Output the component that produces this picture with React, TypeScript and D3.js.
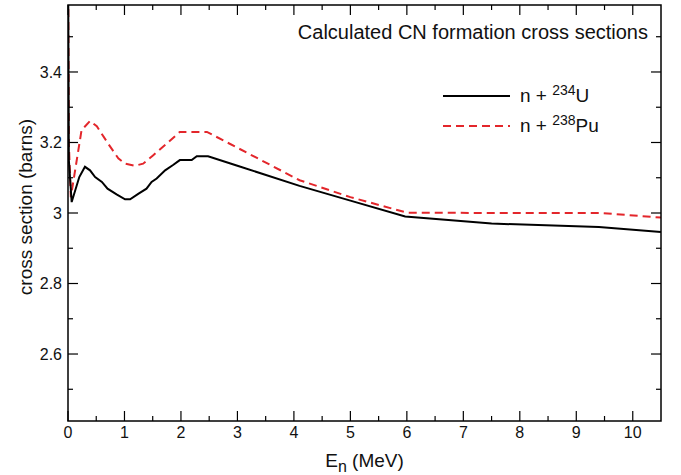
import * as d3 from 'd3';
import { useEffect, useRef } from 'react';

// n + 234U (black, solid)
const U234_E = [0, 0.015, 0.065, 0.2, 0.3, 0.39, 0.48, 0.6, 0.7, 0.86, 1.01, 1.1, 1.25, 1.39, 1.48, 1.57, 1.72, 1.86, 1.98, 2.19, 2.28, 2.48, 3, 4.1, 5, 5.97, 7.5, 9.4, 10.5];
const U234_S = [3.8, 3.15, 3.031, 3.102, 3.131, 3.121, 3.102, 3.088, 3.069, 3.053, 3.039, 3.039, 3.055, 3.069, 3.088, 3.098, 3.121, 3.136, 3.15, 3.15, 3.161, 3.161, 3.134, 3.077, 3.035, 2.99, 2.97, 2.96, 2.946];

// n + 238Pu (red, dashed)
const PU238_E = [0, 0.015, 0.05, 0.24, 0.39, 0.51, 0.71, 0.89, 1.01, 1.19, 1.33, 1.51, 1.75, 1.98, 2.46, 3, 4.1, 5, 6, 7.5, 9.45, 10.5];
const PU238_S = [3.8, 3.2, 3.045, 3.235, 3.261, 3.246, 3.197, 3.155, 3.14, 3.134, 3.14, 3.164, 3.197, 3.23, 3.23, 3.185, 3.093, 3.045, 3.001, 3.0, 3.0, 2.987];

const X_TICKS = [0, 1, 2, 3, 4, 5, 6, 7, 8, 9, 10];
const Y_TICKS = [2.6, 2.8, 3, 3.2, 3.4];
const X_MINOR = d3.range(0.5, 10.5, 1);
const Y_MINOR = [2.5, 2.7, 2.9, 3.1, 3.3, 3.5];

const FONT = '"Liberation Sans", Arial, Helvetica, sans-serif';
const RED = '#e3262b';

export default function App() {
  const svgRef = useRef<SVGSVGElement | null>(null);

  useEffect(() => {
    if (!svgRef.current) return;
    const svg = d3.select(svgRef.current);
    svg.selectAll('*').remove();

    const left = 68;
    const right = 661;
    const top = 5;
    const bottom = 421;

    const x = d3.scaleLinear().domain([0, 10.5]).range([left, right]);
    const y = d3.scaleLinear().domain([2.41, 3.59]).range([bottom, top]);

    svg.append('defs')
      .append('clipPath')
      .attr('id', 'plot-clip')
      .append('rect')
      .attr('x', left)
      .attr('y', top)
      .attr('width', right - left)
      .attr('height', bottom - top);

    const line = d3.line<[number, number]>()
      .x((d) => x(d[0]))
      .y((d) => y(d[1]));

    const u234 = U234_E.map((e, i) => [e, U234_S[i]] as [number, number]);
    const pu238 = PU238_E.map((e, i) => [e, PU238_S[i]] as [number, number]);

    const plot = svg.append('g').attr('clip-path', 'url(#plot-clip)');
    plot.append('path')
      .attr('d', line(pu238))
      .attr('fill', 'none')
      .attr('stroke', RED)
      .attr('stroke-width', 2)
      .attr('stroke-dasharray', '8,5');
    plot.append('path')
      .attr('d', line(u234))
      .attr('fill', 'none')
      .attr('stroke', '#000')
      .attr('stroke-width', 2);

    // ticks on all four sides, pointing inward
    const ticks = svg.append('g').attr('stroke', '#000').attr('stroke-width', 1.2);
    const major = 10;
    const minor = 5;
    X_TICKS.forEach((t) => {
      ticks.append('line').attr('x1', x(t)).attr('x2', x(t)).attr('y1', bottom).attr('y2', bottom - major);
      ticks.append('line').attr('x1', x(t)).attr('x2', x(t)).attr('y1', top).attr('y2', top + major);
    });
    X_MINOR.forEach((t) => {
      ticks.append('line').attr('x1', x(t)).attr('x2', x(t)).attr('y1', bottom).attr('y2', bottom - minor);
      ticks.append('line').attr('x1', x(t)).attr('x2', x(t)).attr('y1', top).attr('y2', top + minor);
    });
    Y_TICKS.forEach((t) => {
      ticks.append('line').attr('x1', left).attr('x2', left + major).attr('y1', y(t)).attr('y2', y(t));
      ticks.append('line').attr('x1', right).attr('x2', right - major).attr('y1', y(t)).attr('y2', y(t));
    });
    Y_MINOR.forEach((t) => {
      ticks.append('line').attr('x1', left).attr('x2', left + minor).attr('y1', y(t)).attr('y2', y(t));
      ticks.append('line').attr('x1', right).attr('x2', right - minor).attr('y1', y(t)).attr('y2', y(t));
    });

    svg.append('rect')
      .attr('x', left)
      .attr('y', top)
      .attr('width', right - left)
      .attr('height', bottom - top)
      .attr('fill', 'none')
      .attr('stroke', '#000')
      .attr('stroke-width', 1.5);

    const labels = svg.append('g').attr('font-family', FONT).attr('fill', '#111');
    X_TICKS.forEach((t) => {
      labels.append('text')
        .attr('x', x(t))
        .attr('y', 438)
        .attr('text-anchor', 'middle')
        .attr('font-size', 16)
        .text(String(t));
    });
    Y_TICKS.forEach((t) => {
      labels.append('text')
        .attr('x', 62)
        .attr('y', y(t))
        .attr('dy', '0.35em')
        .attr('text-anchor', 'end')
        .attr('font-size', 16)
        .text(String(t));
    });

    // axis titles
    const xt = labels.append('text')
      .attr('x', (left + right) / 2)
      .attr('y', 467)
      .attr('text-anchor', 'middle')
      .attr('font-size', 19);
    xt.append('tspan').text('E');
    xt.append('tspan').attr('font-size', 16).attr('dy', 5).text('n');
    xt.append('tspan').attr('dy', -5).text(' (MeV)');

    labels.append('text')
      .attr('transform', `translate(32,207) rotate(-90)`)
      .attr('text-anchor', 'middle')
      .attr('font-size', 19)
      .text('cross section (barns)');

    labels.append('text')
      .attr('x', 648)
      .attr('y', 39)
      .attr('text-anchor', 'end')
      .attr('font-size', 20)
      .text('Calculated CN formation cross sections');

    // legend
    const legend = [
      { mass: '234', el: 'U', color: '#000', dash: null, y: 96 },
      { mass: '238', el: 'Pu', color: RED, dash: '8,5', y: 126 },
    ];
    legend.forEach((l) => {
      svg.append('line')
        .attr('x1', 443)
        .attr('x2', 510)
        .attr('y1', l.y)
        .attr('y2', l.y)
        .attr('stroke', l.color)
        .attr('stroke-width', 2)
        .attr('stroke-dasharray', l.dash);
      const t = labels.append('text')
        .attr('x', 520)
        .attr('y', l.y + 6)
        .attr('font-size', 19);
      t.append('tspan').text('n + ');
      t.append('tspan').attr('font-size', 14).attr('dy', -7).text(l.mass);
      t.append('tspan').attr('dy', 7).text(l.el);
    });
  }, []);

  return (
    <svg
      ref={svgRef}
      width={681}
      height={475}
      style={{ position: 'absolute', left: 0, top: 0, display: 'block', background: '#fff' }}
    />
  );
}
